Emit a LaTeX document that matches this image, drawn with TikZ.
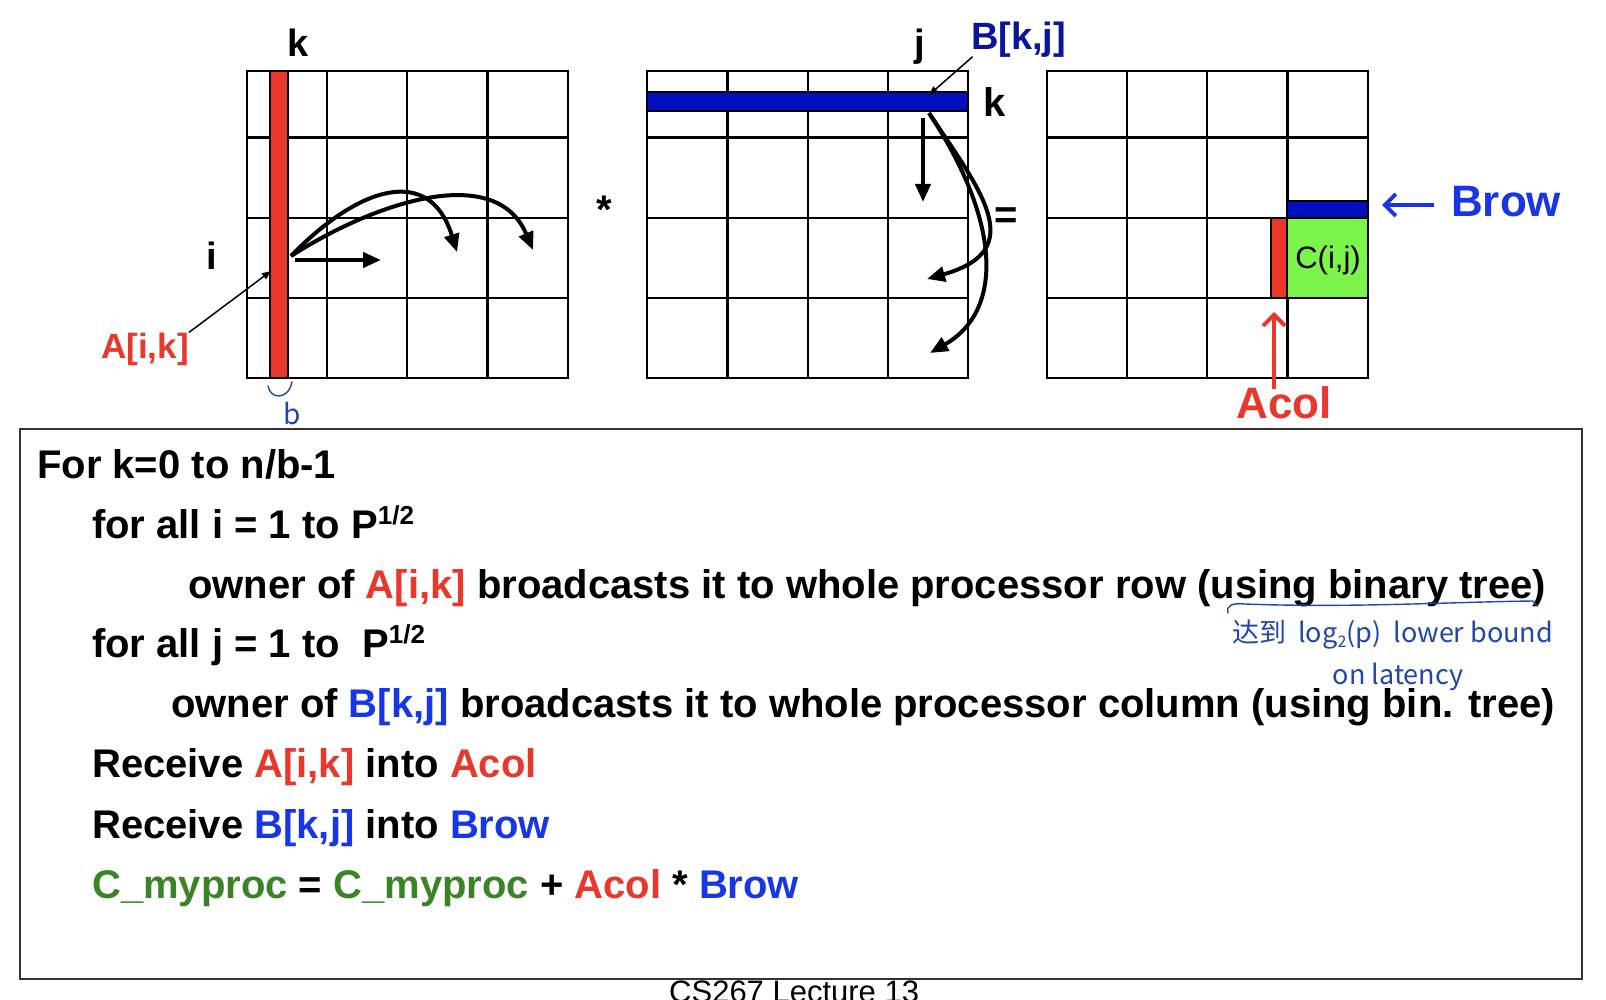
\documentclass[tikz,border=0pt]{standalone}
\usepackage{fontspec}
\setmainfont{Liberation Sans}
\newfontfamily\handfont{Noto Sans CJK SC}
\usetikzlibrary{arrows.meta}

\definecolor{ared}{HTML}{E8372B}
\definecolor{tblue}{HTML}{1836E6}
\definecolor{lblue}{HTML}{0A159C}
\definecolor{barblue}{HTML}{0010BF}
\definecolor{cgreen}{HTML}{3A8427}
\definecolor{fgreen}{HTML}{7BF54C}
\definecolor{penblue}{HTML}{2148A8}
\definecolor{boxgray}{HTML}{333333}

\newcommand\fsz[1]{\fontsize{#1}{#1}\selectfont}
\newcommand\halfpow{\raisebox{14pt}{\fsz{26}1/2}}

\begin{document}
\begin{tikzpicture}[x=1pt,y=-1pt]
\tikzset{
  gridline/.style={line width=2.2pt},
  cell/.style={line width=2pt},
  fat/.style={line width=4pt, -{Triangle[length=18pt,width=15pt]}},
  thin/.style={line width=1.5pt, -{Triangle[length=9pt,width=7pt]}},
  lbl/.style={font=\bfseries\fsz{38}, inner sep=0pt, anchor=base},
  code/.style={font=\bfseries\fsz{40}, inner sep=0pt, anchor=base west},
  pen/.style={draw=penblue, line width=1.4pt, line cap=round, line join=round},
  handtext/.style={text=penblue, font=\handfont\fsz{27}, inner sep=0pt},
}
\useasboundingbox (0,0) rectangle (1606,1000);
\clip (0,0) rectangle (1606,1000);
\fill[white] (0,0) rectangle (1606,1000);

% three 4x4 block grids
\foreach \gx in {246.8,647.3,1046.8} {
  \draw[gridline] (\gx,70.7) rectangle ++(321,307.3);
  \foreach \c in {1,2,3} \draw[gridline] (\gx+\c*80.25,70.7) -- ++(0,307.3);
  \foreach \r in {137.5,218,298} \draw[gridline] (\gx,\r) -- ++(321,0);
}

% highlighted blocks
\filldraw[fill=ared, cell] (270.4,70.7) rectangle (287.8,378);
\filldraw[fill=barblue, cell] (647.3,92.2) rectangle (967.9,110.6);
\filldraw[fill=barblue, cell] (1287.4,200.7) rectangle (1368.3,217.7);
\filldraw[fill=fgreen, cell] (1287.4,217.7) rectangle (1368.3,298);
\filldraw[fill=ared, cell] (1271,217.7) rectangle (1287.4,298);
\node[font=\fsz{31}, inner sep=0pt] (cij) at (1328,260) {C(i,j)};

% index labels
\node[lbl] (kA) at (298,57) {k};
\node[lbl] (iA) at (212,270) {i};
\node[lbl] (jB) at (920,57) {j};
\node[lbl, font=\bfseries\fsz{40}] (kB) at (995,117) {k};
\node[lbl, font=\bfseries\fsz{40}] (times) at (604,224) {*};
\node[lbl, font=\bfseries\fsz{40}] (equals) at (1006,229) {=};
\node[lbl, anchor=base west, font=\bfseries\fsz{35}, text=ared] (alab) at (101,358) {A[i,k]};
\node[lbl, anchor=base west, font=\bfseries\fsz{38}, text=lblue] (blab) at (971,50) {B[k,j]};
\node[lbl, anchor=base west, font=\bfseries\fsz{44}, text=tblue] (browlab) at (1451,217) {Brow};
\node[lbl, font=\bfseries\fsz{44}, text=ared] (acollab) at (1284,418) {Acol};

% pointer lines
\coordinate (apt) at (271,271);
\coordinate (bpt) at (929,95);
\draw[thin] (alab.north east) -- (apt);
\draw[thin, shorten <=-2pt] (blab.south west) -- (bpt);

% row broadcast of A[i,k]
\coordinate (asrc) at (291,256);
\coordinate (a1) at (381,260);
\coordinate (a2) at (457,252);
\coordinate (a3) at (533,250);
\draw[fat] (295,260) -- (a1);
\draw[fat] (asrc) .. controls (360,185) and (430,165) .. (a2);
\draw[fat] (asrc) .. controls (370,205) and (495,160) .. (a3);

% column broadcast of B[k,j]
\coordinate (bsrc) at (929,113);
\coordinate (b1) at (923,202);
\coordinate (b2) at (927,279);
\coordinate (b3) at (930,353);
\draw[fat] (923,118) -- (b1);
\draw[fat] (bsrc) .. controls (980,190) and (1030,250) .. (b2);
\draw[fat] (bsrc) .. controls (1000,220) and (1005,310) .. (b3);

% Brow / Acol markers
\coordinate (browtip) at (1382,205);
\coordinate (acoltip) at (1274,312);
\draw[line width=4pt, tblue, -{Straight Barb[length=11pt,width=22pt]}, shorten <=17pt] (browlab.west |- browtip) -- (browtip);
\draw[line width=4pt, ared, -{Straight Barb[length=11pt,width=22pt]}] (acoltip |- 0,389) -- (acoltip);

% pseudo-code box
\draw[line width=2.5pt, boxgray] (20,429) rectangle (1582,979);
\node[code] (l1) at (37,478) {For k=0 to n/b-1};
\node[code] (l2) at (92,538) {for all i = 1 to P\halfpow};
\node[code] (l3) at (188,598) {owner of {\color{ared}A[i,k]} broadcasts it to whole processor row (using binary tree)};
\node[code] (l4) at (92,657) {for all j = 1 to\ \ P\halfpow};
\node[code] (l5) at (171,717) {owner of {\color{tblue}B[k,j]} broadcasts it to whole processor column (using bin. tree)};
\node[code] (l6) at (92,777) {Receive {\color{ared}A[i,k]} into {\color{ared}Acol}};
\node[code] (l7) at (92,838) {Receive {\color{tblue}B[k,j]} into {\color{tblue}Brow}};
\node[code] (l8) at (92,898) {{\color{cgreen}C\_myproc} = {\color{cgreen}C\_myproc} + {\color{ared}Acol} * {\color{tblue}Brow}};

% footer
\node[font=\fsz{31}, anchor=north west, inner sep=0pt] (foot) at (669,981) {CS267 Lecture 13};

% pen notes
\draw[pen] (268,386) .. controls (270,399) and (288,401) .. (292,382);
\node[handtext, font=\handfont\fsz{28}] (bnote) at (292,414) {b};
\draw[pen] (1228,613) .. controls (1226,605) and (1232,603) .. (1245,604)
  .. controls (1350,608) and (1450,602) .. (1533,601) -- (1537,606);
\node[handtext, anchor=west] (note1) at (1232,635) {达到\ \ log\raisebox{-5pt}{\fsz{16}2}(p)\ \ lower bound};
\node[handtext] (note2) at (1398,677) {on latency};
\end{tikzpicture}
\end{document}
